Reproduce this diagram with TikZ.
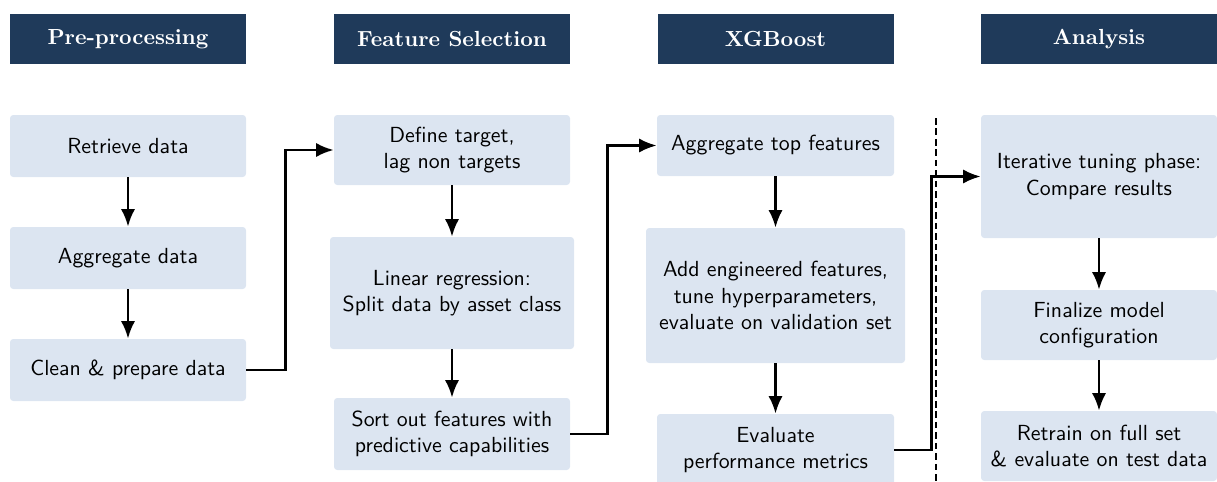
\documentclass[tikz,border=0pt]{standalone}
\usepackage{amsmath}
\usetikzlibrary{arrows.meta}
\definecolor{headblue}{HTML}{1F3A5A}
\definecolor{boxblue}{HTML}{DCE5F1}
\newcommand{\upx}{0.458pt}
\tikzset{
  header/.style={fill=headblue, text=white, font=\bfseries, minimum width=236*\upx, minimum height=50*\upx, inner sep=0pt},
  stagebox/.style={fill=boxblue, rounded corners=1.5pt, align=center, font=\sffamily, inner sep=0pt},
  flow/.style={-{Latex[length=8pt,width=6.5pt]}, line width=1.1pt},
}
\begin{document}
\begin{tikzpicture}[x=0.458pt, y=-0.458pt]
				\useasboundingbox (0,0) rectangle (1217,481);
				
				% Kopfzeilen
				\node[header] (h1) at (128,39) {Pre-processing};
				\node[header] (h2) at (452,39) {Feature Selection};
				\node[header] (h3) at (775.5,39) {XGBoost};
				\node[header] (h4) at (1099,39) {Analysis};
				
				% Spalte 1
				\node[stagebox, minimum width=236*\upx, minimum height=62*\upx] (retrieve) at (128,146) {Retrieve data};
				\node[stagebox, minimum width=236*\upx, minimum height=62*\upx] (aggregate) at (128,258) {Aggregate data};
				\node[stagebox, minimum width=236*\upx, minimum height=62*\upx] (clean) at (128,370) {Clean \& prepare data};
				
				% Spalte 2
				\node[stagebox, minimum width=236*\upx, minimum height=70*\upx] (target) at (452,150) {Define target,\\lag non targets};
				\node[stagebox, minimum width=244*\upx, minimum height=112*\upx] (linreg) at (452,293) {Linear regression:\\Split data by asset class};
				\node[stagebox, minimum width=236*\upx, minimum height=72*\upx] (sortout) at (452,434) {Sort out features with\\predictive capabilities};
				
				% Spalte 3
				\node[stagebox, minimum width=237*\upx, minimum height=61*\upx] (topfeat) at (775.5,145.5) {Aggregate top features};
				\node[stagebox, minimum width=259*\upx, minimum height=135*\upx] (engineer) at (775.5,295.5) {Add engineered features,\\tune hyperparameters,\\evaluate on validation set};
				\node[stagebox, minimum width=237*\upx, minimum height=72*\upx] (evaluate) at (775.5,450) {Evaluate\\performance metrics};
				
				% Spalte 4
				\node[stagebox, minimum width=236*\upx, minimum height=123*\upx] (tuning) at (1099,176.5) {Iterative tuning phase:\\Compare results};
				\node[stagebox, minimum width=236*\upx, minimum height=70*\upx] (finalize) at (1099,325) {Finalize model\\configuration};
				\node[stagebox, minimum width=236*\upx, minimum height=70*\upx] (retrain) at (1099,446) {Retrain on full set\\\& evaluate on test data};
				
				% Trennlinie
				\coordinate (dtop) at (936,118);
				\coordinate (dbot) at (936,481);
				\draw[line width=0.9pt, dash pattern=on 3pt off 1.8pt] (dtop) -- (dbot);
				
				% Pfeile innerhalb der Spalten
				\draw[flow] (retrieve) -- (aggregate);
				\draw[flow] (aggregate) -- (clean);
				\draw[flow] (target) -- (linreg);
				\draw[flow] (linreg) -- (sortout);
				\draw[flow] (topfeat) -- (engineer);
				\draw[flow] (engineer) -- (evaluate);
				\draw[flow] (tuning) -- (finalize);
				\draw[flow] (finalize) -- (retrain);
				
				% Pfeile zwischen den Spalten
				\draw[flow] (clean.east) -- ++(39,0) |- (target.west);
				\draw[flow] (sortout.east) -- ++(37,0) |- (topfeat.west);
				\draw[flow] (evaluate.east) -- ++(37,0) |- (tuning.west);
			\end{tikzpicture}
\end{document}
